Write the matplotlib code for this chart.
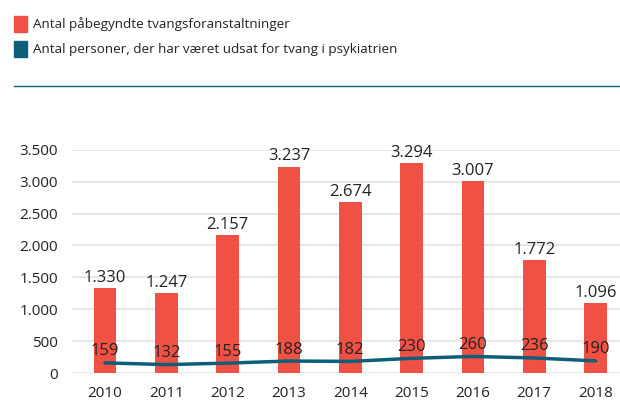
import matplotlib.pyplot as plt
import matplotlib.patches as mpatches
from matplotlib.lines import Line2D

years = ['2010', '2011', '2012', '2013', '2014', '2015', '2016', '2017', '2018']
foranstaltninger = [1330, 1247, 2157, 3237, 2674, 3294, 3007, 1772, 1096]
personer = [159, 132, 155, 188, 182, 230, 260, 236, 190]

red = '#EF5145'
teal = '#0C5F78'
txt = '#222222'

plt.rcParams['font.family'] = ['Open Sans', 'DejaVu Sans']


def fmt(v):
    return f'{v:,}'.replace(',', '.')


fig = plt.figure(figsize=(6.2, 4.03), dpi=100)
ax = fig.add_axes([0.116, 0.0744, 0.884, 0.554])

x = list(range(len(years)))
ax.bar(x, foranstaltninger, width=0.37, color=red, zorder=2)
ax.plot(x, personer, color=teal, lw=2.5, solid_joinstyle='round',
        solid_capstyle='round', zorder=3)

for i, v in enumerate(foranstaltninger):
    ax.annotate(fmt(v), (i, v), xytext=(0, 1.5), textcoords='offset points',
                ha='center', va='bottom', fontsize=12, color=txt, zorder=4)
for i, v in enumerate(personer):
    ax.annotate(fmt(v), (i, v), xytext=(0, 2.5), textcoords='offset points',
                ha='center', va='bottom', fontsize=12, color=txt, zorder=4)

ax.set_xlim(-0.54, 8.4)
ax.set_ylim(0, 3500)
ax.set_yticks(range(0, 3501, 500))
ax.set_yticklabels([fmt(t) for t in range(0, 3501, 500)])
ax.set_xticks(x)
ax.set_xticklabels(years)
ax.tick_params(length=0, labelsize=11, labelcolor=txt)
ax.tick_params(axis='x', pad=9)
ax.tick_params(axis='y', pad=10)
ax.grid(axis='y', color='#E3E3E3', lw=1.2, zorder=0)
for s in ax.spines.values():
    s.set_visible(False)

# legend drawn as figure-level patches and text
fig.patches.append(mpatches.Rectangle((14 / 620, 1 - 32 / 403), 13 / 620, 16 / 403,
                                      transform=fig.transFigure, color=red))
fig.patches.append(mpatches.Rectangle((14 / 620, 1 - 57 / 403), 13 / 620, 16 / 403,
                                      transform=fig.transFigure, color=teal))
fig.text(33 / 620, 1 - 24 / 403, 'Antal påbegyndte tvangsforanstaltninger',
         va='center', ha='left', fontsize=9.7, color=txt)
fig.text(33 / 620, 1 - 49 / 403, 'Antal personer, der har været udsat for tvang i psykiatrien',
         va='center', ha='left', fontsize=9.7, color=txt)
fig.lines.append(Line2D([14 / 620, 1], [1 - 86 / 403] * 2, transform=fig.transFigure,
                        color=teal, lw=1))

fig.savefig('out.png', dpi=100)
